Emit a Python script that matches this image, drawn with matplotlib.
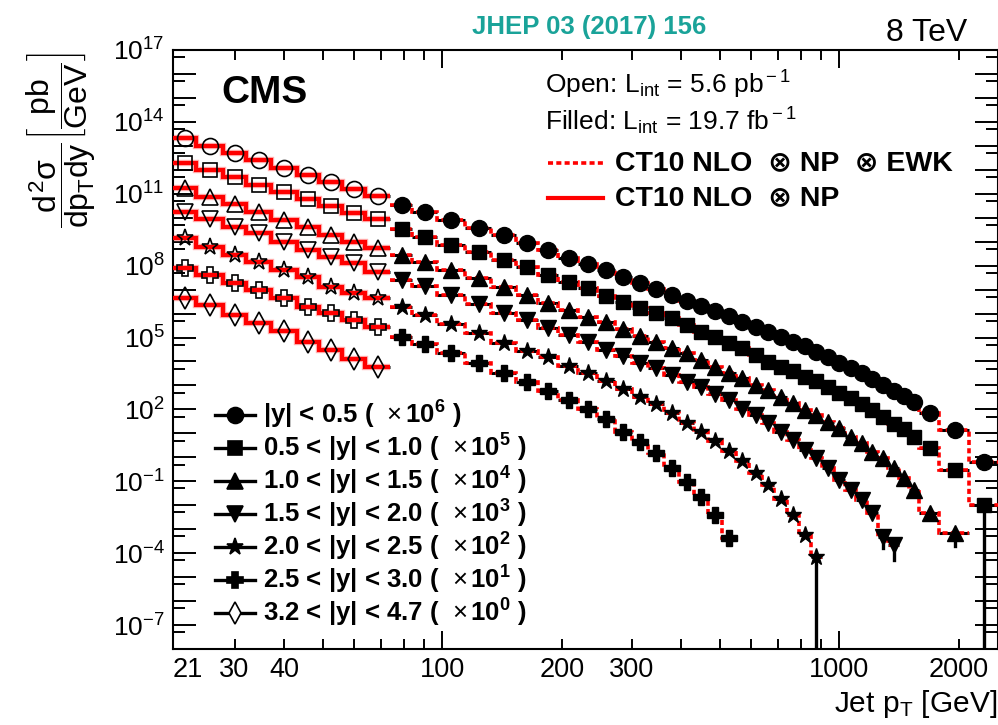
import numpy as np
import matplotlib
matplotlib.use('Agg')
import matplotlib.pyplot as plt
from matplotlib.ticker import FixedLocator, FuncFormatter, NullFormatter
import matplotlib.transforms as mtransforms

plt.rcParams['font.family'] = ['Liberation Sans', 'DejaVu Sans']
plt.rcParams['mathtext.fontset'] = 'custom'
plt.rcParams['mathtext.rm'] = 'Liberation Sans'
plt.rcParams['mathtext.it'] = 'Liberation Sans'
plt.rcParams['mathtext.sf'] = 'Liberation Sans'
plt.rcParams['mathtext.bf'] = 'Liberation Sans:bold'

# pT bin edges in GeV (low-PU run / full run)
edges_lowpt = [21, 24, 28, 32, 37, 43, 49, 56, 64, 74]
edges_highpt = [74, 84, 97, 114, 133, 153, 174, 196, 220, 245, 272, 300, 330, 362,
                395, 430, 468, 507, 548, 592, 638, 686, 737, 790, 846, 905, 967,
                1032, 1101, 1172, 1248, 1327, 1410, 1497, 1588, 1784, 2116, 2500]

# d2sigma/dpT dy in pb/GeV, before the scale factors
open_y0 = [2.07e7, 9.84e6, 4.89e6, 2.56e6, 1.16e6, 6.07e5, 3.01e5, 1.58e5, 8.07e4]
open_y1 = [1.98e7, 9.82e6, 4.86e6, 2.32e6, 1.22e6, 6.04e5, 3.08e5, 1.62e5, 8.59e4]
open_y2 = [1.79e7, 7.53e6, 3.74e6, 1.78e6, 8.04e5, 3.98e5, 1.90e5, 9.98e4, 5.30e4]
open_y3 = [1.78e7, 8.85e6, 4.22e6, 2.24e6, 9.98e5, 4.50e5, 2.36e5, 1.25e5, 5.58e4]
open_y4 = [1.38e7, 6.17e6, 2.78e6, 1.46e6, 6.58e5, 3.26e5, 1.32e5, 7.02e4, 4.34e4]
open_y5 = [7.74e6, 4.06e6, 1.83e6, 9.62e5, 4.34e5, 1.93e5, 1.03e5, 5.38e4, 2.83e4]
open_y6 = [4.34e6, 2.28e6, 8.71e5, 4.16e5, 1.93e5, 6.68e4, 3.01e4, 1.23e4, 5.71e3]

filled_y0 = [3.40e4, 1.78e4, 8.04e3, 3.61e3, 1.90e3, 855, 450, 214, 117, 65.8,
             32.6, 18.3, 10.3, 5.96, 3.44, 2.14, 1.31, 0.791, 0.457, 0.283,
             0.175, 0.102, 0.0668, 0.0443, 0.0256, 0.0158, 8.65e-3, 5.35e-3, 3.30e-3, 1.86e-3,
             1.04e-3, 5.86e-4, 3.72e-4, 2.09e-4, 6.87e-5, 1.38e-5, 6.56e-7]
filled_y1 = [3.29e4, 1.52e4, 7.26e3, 3.82e3, 1.72e3, 853, 407, 214, 115, 54.1,
             31.3, 16.6, 10.3, 6.34, 3.33, 1.75, 1.02, 0.574, 0.355, 0.186,
             0.0980, 0.0605, 0.0401, 0.0225, 0.0153, 8.61e-3, 4.70e-3, 2.90e-3, 1.68e-3, 9.44e-4,
             4.82e-4, 2.46e-4, 1.52e-4, 7.26e-5, 2.38e-5, 2.96e-6, 1.02e-7]
filled_y2 = [2.78e4, 1.46e4, 6.58e3, 2.96e3, 1.25e3, 596, 268, 141, 74.0, 42.4,
             22.0, 11.6, 6.68, 3.55, 2.19, 1.15, 0.605, 0.340, 0.199, 0.104,
             0.0646, 0.0339, 0.0194, 9.70e-3, 5.83e-3, 3.06e-3, 1.63e-3, 7.26e-4, 3.85e-4, 1.72e-4,
             9.10e-5, 3.48e-5, 1.33e-5, 4.33e-6, 4.61e-7, 6.75e-8]
filled_y3 = [2.52e4, 1.41e4, 5.96e3, 2.51e3, 1.09e3, 538, 243, 127, 66.8, 31.0,
             16.9, 8.39, 5.19, 2.73, 1.43, 0.885, 0.440, 0.247, 0.101, 0.0583,
             0.0263, 0.0117, 5.28e-3, 2.02e-3, 9.10e-4, 3.48e-4, 1.13e-4, 4.33e-5, 1.66e-5, 4.61e-6,
             4.88e-7, 2.19e-7]
filled_y4 = [1.82e4, 8.71e3, 3.66e3, 1.50e3, 608, 282, 158, 64.7, 34.0, 15.3,
             6.90, 3.39, 1.68, 0.687, 0.279, 0.117, 0.0494, 0.0189, 7.23e-3, 2.28e-3,
             7.00e-4, 1.77e-4, 3.92e-5, 5.46e-6, 7.11e-7]
filled_y5 = [1.08e4, 5.37e3, 2.32e3, 889, 321, 143, 60.3, 24.7, 10.1, 3.97,
             1.17, 0.449, 0.147, 0.0348, 9.59e-3, 2.27e-3, 3.92e-4, 4.30e-5]

# large lower stat. errors on a few last points (series, bin, lower end)
tail_series = [1, 2, 3, 3, 4]
tail_bin = [36, 35, 30, 31, 24]
tail_low = [1e-14, 1.9e-8, 1.6e-7, 5.2e-8, 1e-11]

scales = [1e6, 1e5, 1e4, 1e3, 1e2, 1e1, 1e0]
scale_exp = [6, 5, 4, 3, 2, 1, 0]
ybins = ['|y| < 0.5', '0.5 < |y| < 1.0', '1.0 < |y| < 1.5', '1.5 < |y| < 2.0',
         '2.0 < |y| < 2.5', '2.5 < |y| < 3.0', '3.2 < |y| < 4.7']

open_vals = [open_y0, open_y1, open_y2, open_y3, open_y4, open_y5, open_y6]
filled_vals = [filled_y0, filled_y1, filled_y2, filled_y3, filled_y4, filled_y5]

markers = ['o', 's', '^', 'v', '*', 'P', 'd']
msizes = [11.5, 10.5, 11.5, 11.5, 12.5, 11.5, 11]

fig = plt.figure(figsize=(9.98, 7.25), dpi=100)
ax = fig.add_axes([173/998, 1-649/725, (997.5-173)/998, (649-50)/725])
ax.set_xscale('log')
ax.set_yscale('log')

dots = (0, (1.4, 0.9))

for i in range(7):
    s = scales[i]
    # low pT, open markers, solid theory
    e = np.array(edges_lowpt, dtype=float)
    xc = 0.5 * (e[:-1] + e[1:])
    yo = np.array(open_vals[i]) * s
    ax.errorbar(xc, yo, xerr=[xc - e[:-1], e[1:] - xc], fmt='none', ecolor='k',
                elinewidth=2.2, capsize=0, zorder=1)
    ax.stairs(yo, e, baseline=None, color='#ffb4b4', lw=4.6, zorder=2)
    ax.stairs(yo, e, baseline=None, color='red', lw=3.0, zorder=3)
    ax.plot(xc, yo, ls='none', marker=markers[i], ms=msizes[i], mfc='none',
            mec='k', mew=1.2, zorder=5)

    if i < len(filled_vals):
        yf = np.array(filled_vals[i]) * s
        n = len(yf)
        e = np.array(edges_highpt[:n + 1], dtype=float)
        xc = 0.5 * (e[:-1] + e[1:])
        ax.errorbar(xc, yf, xerr=[xc - e[:-1], e[1:] - xc], fmt='none', ecolor='k',
                    elinewidth=2.2, capsize=0, zorder=1)
        ax.stairs(yf, e, baseline=None, color='red', lw=2.6, linestyle=dots, zorder=3)
        ax.plot(xc, yf, ls='none', marker=markers[i], ms=msizes[i], mfc='k',
                mec='k', mew=1.0, zorder=5)

for si, b, low in zip(tail_series, tail_bin, tail_low):
    e = edges_highpt
    xc = 0.5 * (e[b] + e[b + 1])
    yv = filled_vals[si][b] * scales[si]
    ax.plot([xc, xc], [low * scales[si], yv], color='k', lw=2.4, zorder=4)

ax.set_xlim(21, 2500)
ax.set_ylim(1e-8, 1e17)

# y ticks: decades long, 5x short, labels every 3 decades
ax.yaxis.set_major_locator(FixedLocator([10.0**k for k in range(-8, 18)]))
ax.yaxis.set_minor_locator(FixedLocator([5 * 10.0**k for k in range(-9, 17)]))
ax.yaxis.set_major_formatter(FuncFormatter(
    lambda v, p: r'$10^{%d}$' % round(np.log10(v)) if (round(np.log10(v)) - 17) % 3 == 0 else ''))
ax.yaxis.set_minor_formatter(NullFormatter())

ax.xaxis.set_major_locator(FixedLocator([100, 1000]))
ax.xaxis.set_minor_locator(FixedLocator([30, 40, 50, 60, 70, 80, 90, 200, 300, 400, 500,
                                         600, 700, 800, 900, 2000]))
ax.xaxis.set_major_formatter(FuncFormatter(lambda v, p: '%d' % v))
ax.xaxis.set_minor_formatter(FuncFormatter(
    lambda v, p: '%d' % v if int(round(v)) in (30, 40, 200, 300, 2000) else ''))

ax.tick_params(axis='both', which='both', direction='in', top=True, right=True,
               width=1.4, colors='k')
ax.tick_params(axis='y', which='major', length=16.5, labelsize=19, pad=6)
ax.tick_params(axis='y', which='minor', length=8.5)
ax.tick_params(axis='x', which='major', length=13, labelsize=19.5, pad=6)
ax.tick_params(axis='x', which='minor', length=7, labelsize=19.5, pad=6)
for sp in ax.spines.values():
    sp.set_linewidth(1.5)

ax.text(21, -0.014, '21', transform=mtransforms.blended_transform_factory(ax.transData, ax.transAxes),
        ha='left', va='top', fontsize=19.5)

# axis titles
fig.text(61/998, 1-140/725, r'$\dfrac{d^{2}\sigma}{dp_{T}dy}\left[\dfrac{pb}{GeV}\right]$',
         rotation=90, ha='center', va='center', fontsize=23)
fig.text(0.999, 1-704/725, r'Jet p$_{\rm T}$ [GeV]', ha='right', va='center', fontsize=21.5)

# labels
fig.text(221/998, 1-93/725, 'CMS', fontsize=28, fontweight='bold', ha='left', va='center')
fig.text(589/998, 1-27/725, 'JHEP 03 (2017) 156', fontsize=18.5, fontweight='bold',
         color='#1aa399', ha='center', va='center')
fig.text(967/998, 1-33/725, '8 TeV', fontsize=23, ha='right', va='center')
fig.text(545/998, 1-85/725, r'Open: L$_{\rm int}$ = 5.6 pb$^{\rm -1}$', fontsize=19,
         ha='left', va='center')
fig.text(545/998, 1-121/725, r'Filled: L$_{\rm int}$ = 19.7 fb$^{\rm -1}$', fontsize=19,
         ha='left', va='center')

ax.plot([548/998, 603/998], [1-163/725, 1-163/725], transform=fig.transFigure, clip_on=False,
        color='red', lw=2.6, linestyle=dots)
ax.plot([548/998, 603/998], [1-198/725, 1-198/725], transform=fig.transFigure, clip_on=False,
        color='red', lw=3)
fig.text(615/998, 1-163/725, 'CT10 NLO  \u2297 NP  \u2297 EWK', fontsize=20.5, fontweight='bold',
         ha='left', va='center')
fig.text(615/998, 1-198/725, 'CT10 NLO  \u2297 NP', fontsize=20.5, fontweight='bold',
         ha='left', va='center')

# rapidity legend, bottom left
for i in range(7):
    yy = 1 - (415 + 33 * i) / 725
    ax.plot([215/998, 255/998], [yy, yy], transform=fig.transFigure, clip_on=False,
            color='k', lw=2.4)
    ax.plot([235/998], [yy], transform=fig.transFigure, clip_on=False, ls='none',
            marker=markers[i], ms=msizes[i], mfc='k' if i < 6 else 'white', mec='k', mew=1.2)
    fig.text(263/998, yy, ybins[i] + r' (  $\times\,\mathbf{10^{%d}}$ )' % scale_exp[i],
             fontsize=18.5, fontweight='bold', ha='left', va='center')

fig.savefig('out.png', dpi=100)
